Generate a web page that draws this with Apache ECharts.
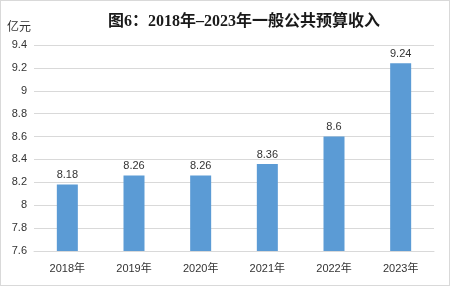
<!DOCTYPE html>
<html><head><meta charset="utf-8">
<script src="https://cdn.jsdelivr.net/npm/echarts@6/dist/echarts.min.js"></script>
<style>html,body{margin:0;padding:0;background:#fff}#c{width:450px;height:286px;box-sizing:border-box;border:1px solid #d9d9d9}</style>
</head><body><div id="c"></div>
<script>
const categories = ['2018年','2019年','2020年','2021年','2022年','2023年'];
const values = [8.18, 8.26, 8.26, 8.36, 8.6, 9.24];
const yTicks = [7.6, 7.8, 8, 8.2, 8.4, 8.6, 8.8, 9, 9.2, 9.4];
const titleText = '图6：2018年–2023年一般公共预算收入';
const unitText = '亿元';

const chart = echarts.init(document.getElementById('c'));
chart.setOption({
  animation: false,
  title: {
    text: titleText, left: 238, top: 8, textAlign: 'center',
    textStyle: { fontFamily: 'Liberation Serif, Noto Sans CJK SC', fontWeight: 'bold', fontSize: 16, color: '#1a1a1a' }
  },
  graphic: [{ type: 'text', left: 6, top: 19, style: { text: unitText, font: '12px "Noto Sans CJK SC"', fill: '#333' } }],
  grid: { left: 33, right: 15, top: 44, bottom: 34 },
  xAxis: {
    type: 'category', data: categories,
    axisLine: { lineStyle: { color: '#d9d9d9' } }, axisTick: { show: false },
    axisLabel: { color: '#333', fontSize: 11, margin: 12, fontFamily: 'Liberation Sans, Noto Sans CJK SC' }
  },
  yAxis: {
    type: 'value', min: yTicks[0], max: yTicks[yTicks.length - 1], interval: 0.2,
    axisLine: { show: false }, axisTick: { show: false },
    splitLine: { lineStyle: { color: '#d9d9d9' } },
    axisLabel: { color: '#333', fontSize: 11, margin: 7, fontFamily: 'Liberation Sans',
      formatter: v => String(parseFloat(v.toFixed(1))) }
  },
  series: [{
    type: 'bar', data: values, barWidth: 21,
    itemStyle: { color: '#5b9bd5' },
    label: { show: true, position: 'top', color: '#333', fontSize: 11, fontFamily: 'Liberation Sans', distance: 4 }
  }]
});
</script></body></html>
